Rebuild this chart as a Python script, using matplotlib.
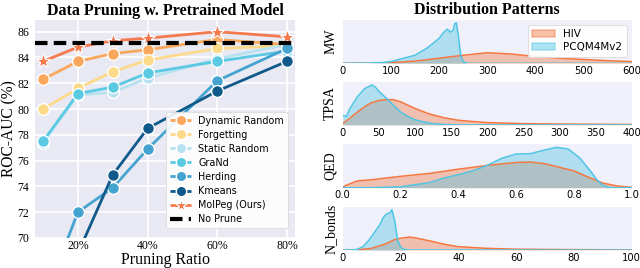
import matplotlib
matplotlib.use("Agg")
import matplotlib.pyplot as plt
from matplotlib.patches import Patch
from matplotlib.lines import Line2D

# ---------------- data: left chart ----------------
ratios = [10, 20, 30, 40, 60, 80]
dynamic_random = [82.3, 83.7, 84.3, 84.6, 85.4, 85.0]
forgetting = [80.0, 81.6, 82.9, 83.8, 84.7, 84.9]
static_random = [77.4, 81.1, 81.3, 82.4, 83.9, 85.0]
grand = [77.5, 81.2, 81.7, 82.8, 83.7, 84.5]
herding = [65.0, 72.0, 73.9, 76.9, 82.2, 84.7]
kmeans = [60.0, 68.8, 74.9, 78.5, 81.4, 83.7]
molpeg = [83.7, 84.8, 85.3, 85.5, 86.0, 85.6]
no_prune = 85.1
x_ticks = [20, 40, 60, 80]
x_tick_labels = ["20%", "40%", "60%", "80%"]
y_ticks = [70, 72, 74, 76, 78, 80, 82, 84, 86]

# ---------------- data: right chart (relative density heights) ----------------
mw_hiv_x = [0, 50, 100, 150, 200, 250, 300, 350, 400, 450, 500, 550, 600]
mw_hiv_y = [0.0, 0.003, 0.015, 0.05, 0.12, 0.19, 0.25, 0.22, 0.16, 0.12, 0.09, 0.06, 0.04]
mw_pcq_x = [0, 50, 80, 100, 120, 150, 175, 200, 210, 217, 224, 229, 233, 236, 240, 245, 250, 260, 600]
mw_pcq_y = [0.0, 0.005, 0.015, 0.04, 0.1, 0.19, 0.36, 0.59, 0.74, 0.81, 0.74, 0.78, 0.95, 0.96, 0.65, 0.19, 0.04, 0.0, 0.0]

tpsa_hiv_x = [0, 10, 20, 30, 40, 50, 60, 70, 80, 90, 100, 120, 140, 160, 180, 200, 250, 300, 350, 400]
tpsa_hiv_y = [0.03, 0.16, 0.3, 0.43, 0.53, 0.58, 0.6, 0.6, 0.55, 0.47, 0.39, 0.26, 0.17, 0.11, 0.08, 0.055, 0.03, 0.02, 0.015, 0.01]
tpsa_pcq_x = [0, 5, 10, 20, 30, 35, 40, 45, 50, 60, 70, 80, 90, 100, 120, 140, 160, 400]
tpsa_pcq_y = [0.23, 0.2, 0.39, 0.66, 0.86, 0.9, 0.95, 0.9, 0.8, 0.64, 0.47, 0.31, 0.2, 0.12, 0.04, 0.01, 0.0, 0.0]

qed_hiv_x = [0.0, 0.02, 0.05, 0.1, 0.2, 0.3, 0.4, 0.5, 0.6, 0.65, 0.7, 0.8, 0.85, 0.9, 0.95, 1.0]
qed_hiv_y = [0.02, 0.08, 0.16, 0.19, 0.27, 0.34, 0.44, 0.53, 0.6, 0.61, 0.57, 0.4, 0.25, 0.11, 0.04, 0.01]
qed_pcq_x = [0.0, 0.1, 0.2, 0.3, 0.35, 0.4, 0.45, 0.5, 0.55, 0.6, 0.65, 0.7, 0.74, 0.78, 0.82, 0.86, 0.88, 0.9, 0.92, 0.95, 1.0]
qed_pcq_y = [0.0, 0.0, 0.02, 0.12, 0.23, 0.31, 0.4, 0.53, 0.7, 0.8, 0.81, 0.9, 0.96, 0.92, 0.71, 0.37, 0.18, 0.06, 0.01, 0.0, 0.0]

nb_hiv_x = [0, 5, 10, 15, 18, 20, 23, 25, 30, 35, 40, 50, 60, 80, 100]
nb_hiv_y = [0.0, 0.005, 0.04, 0.15, 0.25, 0.28, 0.31, 0.29, 0.22, 0.14, 0.08, 0.04, 0.02, 0.01, 0.005]
nb_pcq_x = [0, 3, 5, 7, 9, 11, 13, 14, 15, 16, 16.5, 17, 18, 19, 20, 21, 23, 100]
nb_pcq_y = [0.0, 0.003, 0.015, 0.08, 0.23, 0.42, 0.62, 0.77, 0.85, 0.88, 0.9, 0.96, 0.69, 0.23, 0.08, 0.02, 0.0, 0.0]

panels = [
    ("MW", mw_hiv_x, mw_hiv_y, mw_pcq_x, mw_pcq_y, (0, 600), [0, 100, 200, 300, 400, 500, 600]),
    ("TPSA", tpsa_hiv_x, tpsa_hiv_y, tpsa_pcq_x, tpsa_pcq_y, (0, 400), [0, 50, 100, 150, 200, 250, 300, 350, 400]),
    ("QED", qed_hiv_x, qed_hiv_y, qed_pcq_x, qed_pcq_y, (0, 1), [0.0, 0.2, 0.4, 0.6, 0.8, 1.0]),
    ("N_bonds", nb_hiv_x, nb_hiv_y, nb_pcq_x, nb_pcq_y, (0, 100), [0, 20, 40, 60, 80, 100]),
]

# ---------------- styling ----------------
serif = ["Liberation Serif", "DejaVu Serif"]
sans = ["DejaVu Sans"]
left_bg = "#E9E9F4"
right_bg = "#F0F0FA"
c_hiv = "#F5773F"
c_pcq = "#4EC5E4"

fig = plt.figure(figsize=(6.4, 2.68), dpi=100)

# ---------------- left chart ----------------
ax = fig.add_axes([0.0547, 0.112, 0.4063, 0.813])
ax.set_facecolor(left_bg)
ax.grid(True, color="white", linewidth=1.2)
ax.set_axisbelow(True)
for s in ax.spines.values():
    s.set_visible(False)

series = [
    ("Dynamic Random", dynamic_random, "#F9A75C", "o"),
    ("Forgetting", forgetting, "#FDD98A", "o"),
    ("Static Random", static_random, "#B6E2F0", "o"),
    ("GraNd", grand, "#5BC9E2", "o"),
    ("Herding", herding, "#45A3CF", "o"),
    ("Kmeans", kmeans, "#0F5A8B", "o"),
]
handles = []
for name, vals, col, mk in series:
    ax.plot(ratios, vals, color=col, lw=2, marker=mk, ms=8.5,
            markeredgecolor="white", markeredgewidth=1.0, zorder=3)
    handles.append(Line2D([0], [0], color=col, lw=2, ls="--", marker=mk, ms=7.5,
                          markeredgecolor="white", markeredgewidth=1.0))
ax.plot(ratios, molpeg, color="#F47A4E", lw=2, marker="*", ms=11,
        markeredgecolor="white", markeredgewidth=0.8, zorder=4)
handles.append(Line2D([0], [0], color="#F47A4E", lw=2, ls="--", marker="*", ms=9.5,
                      markeredgecolor="white", markeredgewidth=0.8))
ax.axhline(no_prune, color="black", lw=3, ls=(0, (3, 1.5)), zorder=5)
handles.append(Line2D([0], [0], color="black", lw=3, ls=(0, (3, 1.5))))
labels = [s[0] for s in series] + ["MolPeg (Ours)", "No Prune"]

ax.set_xlim(7.7, 82.3)
ax.set_ylim(70, 86.9)
ax.set_xticks(x_ticks)
ax.set_xticklabels(x_tick_labels, fontfamily=serif, fontsize=8.5)
ax.set_yticks(y_ticks)
ax.set_yticklabels([str(v) for v in y_ticks], fontfamily=serif, fontsize=8.5)
ax.tick_params(axis="x", length=0, pad=1.5)
ax.tick_params(axis="y", length=0, pad=4)
ax.set_xlabel("Pruning Ratio", fontfamily=serif, fontsize=11.5, labelpad=0)
ax.set_ylabel("ROC-AUC (%)", fontfamily=serif, fontsize=11.2, labelpad=0)
ax.set_title("Data Pruning w. Pretrained Model", fontfamily=serif, fontsize=11.5,
             fontweight="bold", pad=4)
leg = ax.legend(handles, labels, loc="lower right", prop={"family": sans, "size": 6.9},
                frameon=True, facecolor="white", edgecolor="#DDDDDD", framealpha=0.9,
                handlelength=2.2, handletextpad=0.7, labelspacing=0.42,
                borderpad=0.4, bbox_to_anchor=(0.99, 0.025))
leg.get_frame().set_linewidth(0.8)

# ---------------- right chart ----------------
bottoms = [0.764, 0.534, 0.2996, 0.067]
for (name, hx, hy, px, py, xl, xt), b in zip(panels, bottoms):
    a = fig.add_axes([0.5355, b, 0.4516, 0.1616])
    a.set_facecolor(right_bg)
    for s in a.spines.values():
        s.set_visible(False)
    a.fill_between(hx, hy, color=c_hiv, alpha=0.4, lw=0)
    a.plot(hx, hy, color=c_hiv, lw=1.1)
    a.fill_between(px, py, color=c_pcq, alpha=0.4, lw=0)
    a.plot(px, py, color=c_pcq, lw=1.1)
    a.set_xlim(*xl)
    a.set_ylim(0, 1.03)
    a.set_yticks([])
    a.set_xticks(xt)
    if name == "QED":
        a.set_xticklabels([f"{v:.1f}" for v in xt])
    a.tick_params(axis="x", length=0, pad=2, labelsize=7.2)
    for t in a.get_xticklabels():
        t.set_fontfamily(sans)
    a.set_ylabel(name, fontfamily=serif, fontsize=10, labelpad=4)
    if name == "MW":
        a.set_title("Distribution Patterns", fontfamily=serif, fontsize=11.5,
                    fontweight="bold", pad=4)
        ph = [Patch(facecolor=c_hiv, alpha=0.45, edgecolor=c_hiv, lw=1.1),
              Patch(facecolor=c_pcq, alpha=0.45, edgecolor=c_pcq, lw=1.1)]
        for p in ph:
            p.set_edgecolor(p.get_facecolor()[:3] + (1.0,))
        lg = a.legend(ph, ["HIV", "PCQM4Mv2"], loc="upper right",
                      prop={"family": sans, "size": 7.5}, frameon=True,
                      facecolor="white", edgecolor="#DDDDDD", framealpha=0.9,
                      handlelength=2.2, labelspacing=0.3, borderpad=0.4)
        lg.get_frame().set_linewidth(0.8)

fig.savefig("out.png", dpi=100)
